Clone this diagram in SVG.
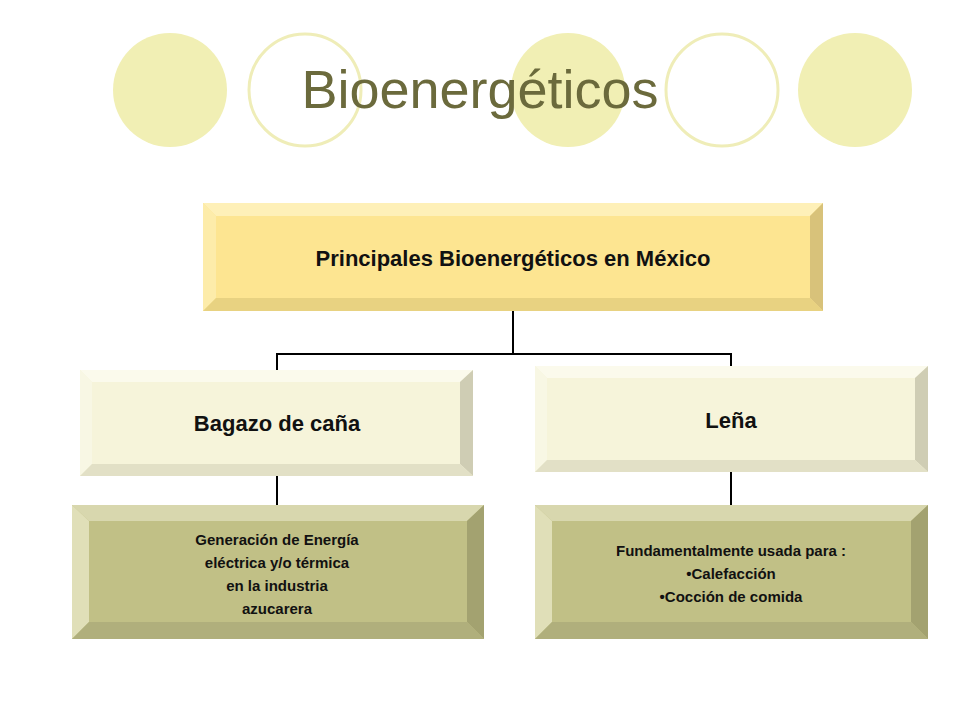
<svg xmlns="http://www.w3.org/2000/svg" width="960" height="720" viewBox="0 0 960 720">
<style>
.fc{fill:#f1efb4}
.oc{fill:#fff;stroke:#efedb8;stroke-width:3}
.t{font-family:"Liberation Sans",Arial,sans-serif;font-weight:bold;fill:#111;text-anchor:middle}
.cn{fill:none;stroke:#000;stroke-width:2}
</style>
<rect width="960" height="720" fill="#fff"/>
<g id="decor">
<circle class="fc" cx="170" cy="90" r="57"/>
<circle class="oc" cx="305" cy="90" r="56"/>
<circle class="fc" cx="568" cy="90" r="57"/>
<circle class="oc" cx="722" cy="90" r="56"/>
<circle class="fc" cx="855" cy="90" r="57"/>
<text x="480" y="108" font-family="'Liberation Sans',Arial,sans-serif" font-size="54" fill="#6b6a3c" text-anchor="middle">Bioenergéticos</text>
</g>
<g id="connectors">
<path class="cn" d="M513 311V354M277 370V354H731V366M277 476V505M731 472V505"/>
</g>
<g id="top">
<rect x="203" y="203" width="620" height="108" fill="#fde591"/>
<polygon points="203,203 823,203 810,216 216,216" fill="#fef0b8"/>
<polygon points="203,203 216,216 216,298 203,311" fill="#fdecaa"/>
<polygon points="823,203 810,216 810,298 823,311" fill="#d8c27a"/>
<polygon points="203,311 216,298 810,298 823,311" fill="#e8d281"/>
<text class="t" x="513" y="266" font-size="22">Principales Bioenergéticos en México</text>
</g>
<g id="bagazo">
<rect x="80" y="370" width="393" height="106" fill="#f6f4da"/>
<polygon points="80,370 473,370 460,382 92,382" fill="#fbfaec"/>
<polygon points="80,370 92,382 92,464 80,476" fill="#f8f7e4"/>
<polygon points="473,370 460,382 460,464 473,476" fill="#cfcdb4"/>
<polygon points="80,476 92,464 460,464 473,476" fill="#e2e0c6"/>
<text class="t" x="277" y="431" font-size="22">Bagazo de caña</text>
</g>
<g id="lena">
<rect x="535" y="366" width="393" height="106" fill="#f6f4da"/>
<polygon points="535,366 928,366 915,378 547,378" fill="#fbfaec"/>
<polygon points="535,366 547,378 547,460 535,472" fill="#f8f7e4"/>
<polygon points="928,366 915,378 915,460 928,472" fill="#cfcdb4"/>
<polygon points="535,472 547,460 915,460 928,472" fill="#e2e0c6"/>
<text class="t" x="731" y="428" font-size="22">Leña</text>
</g>
<g id="generacion">
<rect x="72" y="505" width="412" height="134" fill="#c1c086"/>
<polygon points="72,505 484,505 467,521 89,521" fill="#d8d7ae"/>
<polygon points="72,505 89,521 89,622 72,639" fill="#e0dfb8"/>
<polygon points="484,505 467,521 467,622 484,639" fill="#a3a270"/>
<polygon points="72,639 89,622 467,622 484,639" fill="#b0af7c"/>
<text class="t" x="277" y="545" font-size="15">Generación de Energía</text>
<text class="t" x="277" y="568" font-size="15">eléctrica y/o térmica</text>
<text class="t" x="277" y="591" font-size="15">en la industria</text>
<text class="t" x="277" y="614" font-size="15">azucarera</text>
</g>
<g id="fundamental">
<rect x="535" y="505" width="393" height="134" fill="#c1c086"/>
<polygon points="535,505 928,505 911,521 552,521" fill="#d8d7ae"/>
<polygon points="535,505 552,521 552,622 535,639" fill="#e0dfb8"/>
<polygon points="928,505 911,521 911,622 928,639" fill="#a3a270"/>
<polygon points="535,639 552,622 911,622 928,639" fill="#b0af7c"/>
<text class="t" x="731" y="556" font-size="15">Fundamentalmente usada para :</text>
<text class="t" x="731" y="579" font-size="15">•Calefacción</text>
<text class="t" x="731" y="602" font-size="15">•Cocción de comida</text>
</g>
</svg>
